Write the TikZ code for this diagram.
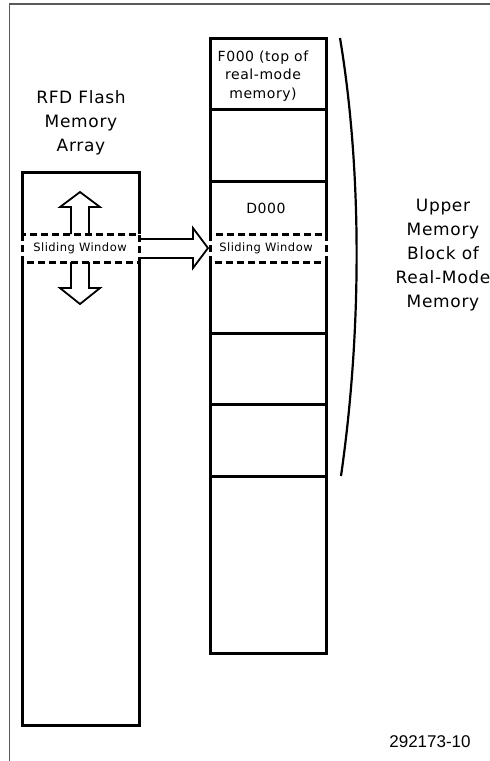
\documentclass[tikz,border=0pt]{standalone}
\usepackage{fontspec}
\newfontfamily\labelfont[LetterSpace=4]{DejaVu Sans}
\newfontfamily\figfont{Liberation Sans}
\begin{document}
\begin{tikzpicture}[x=1pt,y=-1pt,
  boxline/.style={line width=3pt,line join=miter},
  winline/.style={line width=3pt,dash pattern=on 7pt off 4pt},
  blockarrow/.style={line width=1.8pt,line join=miter},
  frameline/.style={line width=1.5pt,draw=black!65},
  bigtext/.style={align=center,inner sep=0pt,font=\labelfont\fontsize{17}{24}\selectfont},
  celltext/.style={align=center,inner sep=0pt,font=\labelfont\fontsize{14}{18.5}\selectfont},
  wintext/.style={inner sep=0pt,font=\labelfont\fontsize{11.5}{13}\selectfont},
  figtext/.style={inner sep=0pt,font=\figfont\fontsize{17}{19}\selectfont}]
\useasboundingbox (0,0) rectangle (490,761);
% frame
\draw[frameline] (9.5,761) -- (9.5,4) -- (490,4);
% named corner coordinates
\coordinate (LTL) at (22,172);  \coordinate (LTR) at (139,172);
\coordinate (LWT1) at (22,234); \coordinate (LWT2) at (139,234);
\coordinate (LWB1) at (22,262); \coordinate (LWB2) at (139,262);
\coordinate (LBL) at (22,725);  \coordinate (LBR) at (139,725);
\coordinate (RTL) at (210,38);  \coordinate (RTR) at (326,38);
\coordinate (RWT1) at (210,234); \coordinate (RWT2) at (326,234);
\coordinate (RWB1) at (210,262); \coordinate (RWB2) at (326,262);
\coordinate (RBL) at (210,653);  \coordinate (RBR) at (326,653);
% left flash array
\draw[boxline] (LWT1) -- (LTL) -- (LTR) -- (LWT2);
\draw[boxline] (LWB1) -- (LBL) -- (LBR) -- (LWB2);
\draw[winline] (LWT1) rectangle (LWB2);
% right memory column
\draw[boxline] (RWT1) -- (RTL) -- (RTR) -- (RWT2);
\draw[boxline] (RWB1) -- (RBL) -- (RBR) -- (RWB2);
\draw[boxline] (210,109) -- (326,109);
\draw[boxline] (210,181) -- (326,181);
\draw[boxline] (210,333) -- (326,333);
\draw[boxline] (210,404) -- (326,404);
\draw[boxline] (210,476) -- (326,476);
\draw[winline] (RWT1) rectangle (RWB2);
% block arrows
\draw[blockarrow] (71,234) -- (71,207) -- (60,207) -- (80,192) -- (100,207) -- (89,207) -- (89,234);
\draw[blockarrow] (71,262) -- (71,288) -- (60,288) -- (80,304) -- (100,288) -- (89,288) -- (89,262);
\draw[blockarrow] (139,239) -- (193,239) -- (193,228) -- (208,248) -- (193,268) -- (193,258) -- (139,258);
% brace curve
\coordinate (bt) at (340,38);
\coordinate (bb) at (341,476);
\draw[line width=2.2pt] (bt) .. controls (362,170) and (362,330) .. (bb);
% texts
\node[bigtext] (rfd) at (81,123) {RFD Flash\\Memory\\Array};
\node[celltext] (f000) at (263,76) {F000 (top of\\real-mode\\memory)};
\node[celltext] (d000) at (266,208) {D000};
\node[wintext] (swl) at (80,248) {Sliding Window};
\node[wintext] (swr) at (266,248) {Sliding Window};
\node[bigtext] (umb) at (443,255) {Upper\\Memory\\Block of\\Real-Mode\\Memory};
\node[figtext] (fig) at (430,742) {292173-10};
\end{tikzpicture}
\end{document}
